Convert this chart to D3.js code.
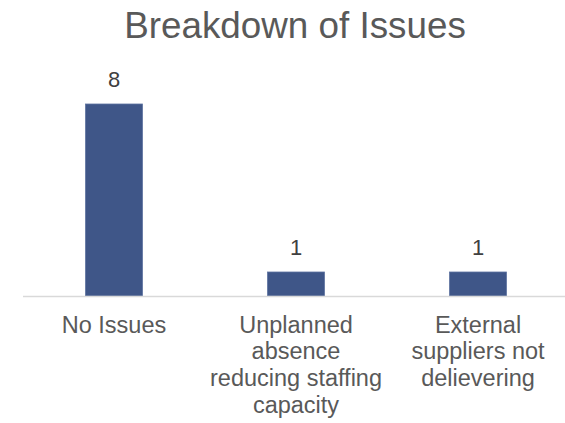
<!DOCTYPE html>
<html>
<head>
<meta charset="utf-8">
<script src="https://cdn.jsdelivr.net/npm/d3@7"></script>
<style>
  html, body { margin: 0; padding: 0; background: #fff; }
  svg { display: block; }
  svg text { font-family: "Liberation Sans", Arial, sans-serif; }
</style>
</head>
<body>
<svg id="chart" width="565" height="423"></svg>
<script>
const title = "Breakdown of Issues";
const categories = ["No Issues", "Unplanned absence reducing staffing capacity", "External suppliers not delievering"];
const values = [8, 1, 1];

const W = 565, H = 423;
const FONT = "Liberation Sans, Arial, sans-serif";
const margin = { left: 23, right: -4, top: 104, bottom: 127 };
const svg = d3.select("#chart");

const x = d3.scaleBand()
  .domain(categories)
  .range([margin.left, W - margin.right])
  .paddingInner(0.687)
  .paddingOuter(0.3435);

const y = d3.scaleLinear()
  .domain([0, d3.max(values)])
  .range([H - margin.bottom, margin.top]);

const textColor = "#595959";
const barColor = "#3F5688";

// title
svg.append("text")
  .attr("x", 295)
  .attr("y", 38)
  .attr("text-anchor", "middle")
  .attr("font-family", FONT)
  .attr("font-size", 36.8)
  .attr("fill", textColor)
  .text(title);

// bars
svg.selectAll("rect.bar")
  .data(values)
  .join("rect")
  .attr("class", "bar")
  .attr("x", (d, i) => x(categories[i]))
  .attr("y", d => y(d))
  .attr("width", x.bandwidth())
  .attr("height", d => y(0) - y(d))
  .attr("fill", barColor)
  .attr("stroke", "#5E73A0")
  .attr("stroke-width", 0.8);

// value labels
svg.selectAll("text.val")
  .data(values)
  .join("text")
  .attr("class", "val")
  .attr("x", (d, i) => x(categories[i]) + x.bandwidth() / 2)
  .attr("y", d => y(d) - 17)
  .attr("text-anchor", "middle")
  .attr("font-family", FONT)
  .attr("font-size", 22)
  .attr("fill", "#404040")
  .text(d => d);

// x axis
const xAxis = d3.axisBottom(x).tickSize(0).tickPadding(0);
const gx = svg.append("g")
  .attr("transform", `translate(0,${y(0)})`)
  .call(xAxis)
  .attr("font-family", FONT);
gx.select(".domain")
  .attr("d", `M${margin.left},0.5H${W}`)
  .attr("stroke", "#D9D9D9")
  .attr("stroke-width", 1.5);

// wrap labels
const LABEL_SIZE = 23.5;
const measurer = svg.append("text").attr("font-family", FONT).attr("font-size", LABEL_SIZE).attr("visibility", "hidden");
function wrapWords(str, maxW) {
  const words = str.split(" ");
  const lines = [];
  let cur = "";
  for (const w of words) {
    const test = cur ? cur + " " + w : w;
    measurer.text(test);
    if (measurer.node().getComputedTextLength() > maxW && cur) {
      lines.push(cur);
      cur = w;
    } else {
      cur = test;
    }
  }
  if (cur) lines.push(cur);
  return lines;
}

gx.selectAll(".tick text").each(function(d) {
  const t = d3.select(this);
  t.text(null)
    .attr("y", 0)
    .attr("dy", null)
    .attr("font-size", LABEL_SIZE)
    .attr("font-family", FONT)
    .attr("fill", textColor)
    .attr("text-anchor", "middle");
  const lines = wrapWords(d, 179);
  lines.forEach((ln, i) => {
    t.append("tspan")
      .attr("x", 0)
      .attr("y", 36.5 + i * 26.7)
      .text(ln);
  });
});
measurer.remove();
</script>
</body>
</html>
